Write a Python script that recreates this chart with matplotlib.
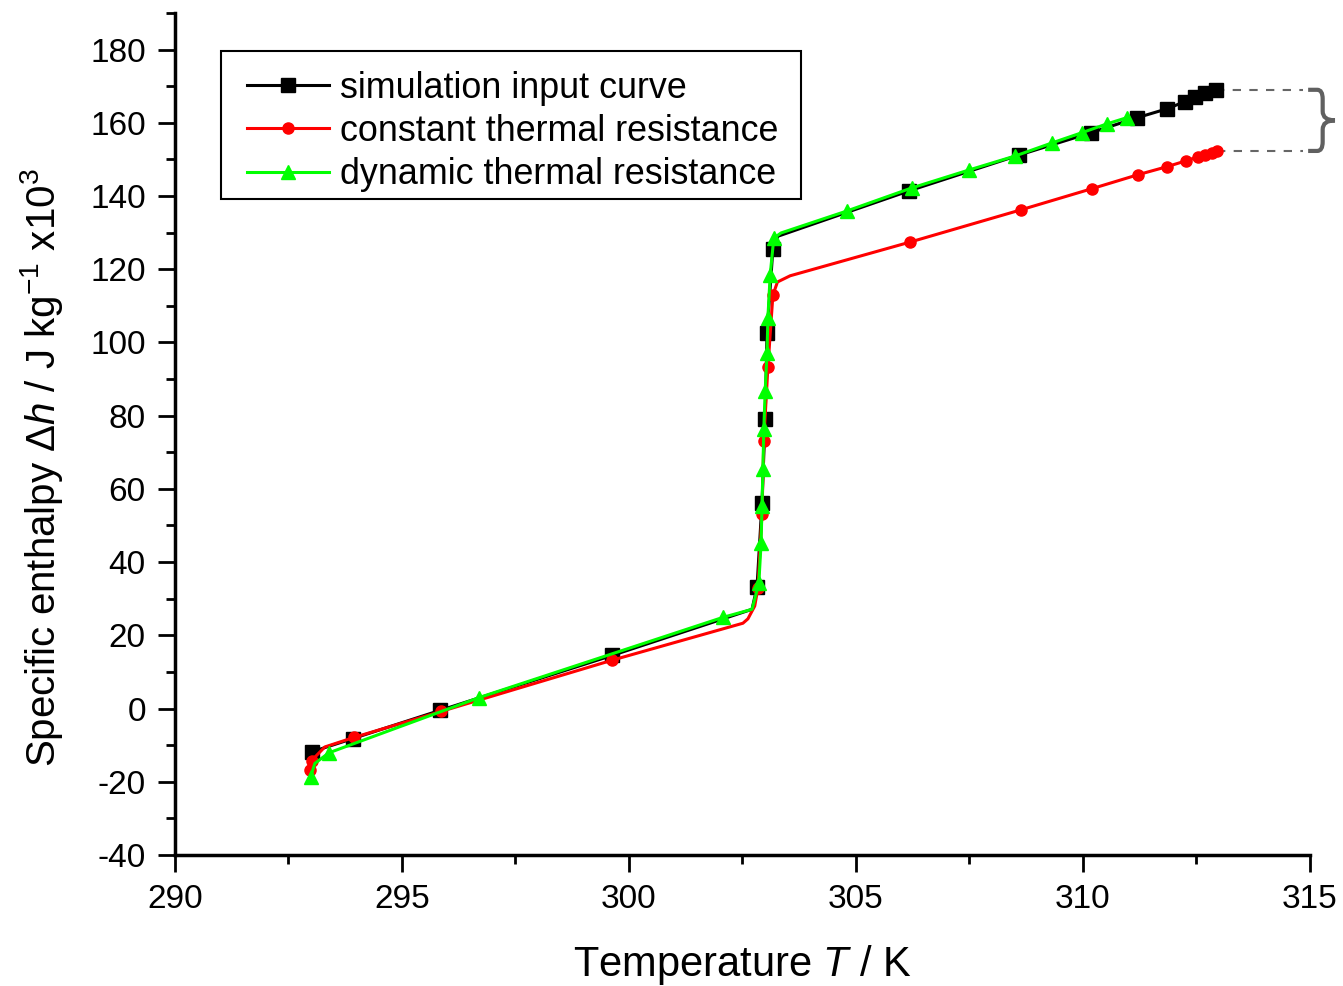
import numpy as np
import matplotlib.pyplot as plt
from matplotlib.path import Path
from matplotlib.patches import PathPatch, Rectangle

plt.rcParams['font.family'] = ['Liberation Sans', 'DejaVu Sans']
plt.rcParams['mathtext.fontset'] = 'custom'
plt.rcParams['mathtext.rm'] = 'Liberation Sans'
plt.rcParams['mathtext.it'] = 'Liberation Sans:italic'
plt.rcParams['axes.unicode_minus'] = False

# simulation input curve
T_sim = [293.02, 293.92, 295.84, 299.63, 302.71, 302.82, 302.93, 303.00, 303.04,
         303.17, 303.28, 306.17, 308.60, 310.18, 311.20, 311.85, 312.25, 312.47,
         312.69, 312.93]
h_sim = [-11.8, -8.2, -0.5, 14.5, 27.1, 33.2, 56.2, 79.2, 102.5,
         125.5, 129.0, 141.4, 151.2, 157.3, 161.4, 163.8, 165.8, 167.1,
         168.2, 169.0]
mk_sim = [0, 1, 2, 3, 5, 6, 7, 8, 9, 11, 12, 13, 14, 15, 16, 17, 18, 19]

# constant thermal resistance
T_con = [292.97, 293.01, 293.30, 293.94, 295.86, 299.63, 302.51, 302.62, 302.77,
         302.84, 302.93, 302.97, 303.06, 303.17, 303.27, 303.55, 306.19, 308.63,
         310.20, 311.21, 311.85, 312.27, 312.53, 312.69, 312.84, 312.95]
h_con = [-16.7, -14.2, -10.5, -7.9, -0.8, 13.2, 23.3, 24.5, 28.0,
         32.9, 53.2, 73.2, 93.2, 112.9, 116.5, 118.2, 127.4, 136.2,
         142.0, 145.8, 148.0, 149.6, 150.7, 151.2, 151.8, 152.3]
mk_con = [0, 1, 3, 4, 5, 9, 10, 11, 12, 13, 16, 17, 18, 19, 20, 21, 22, 23, 24, 25]

# dynamic thermal resistance
T_dyn = [292.99, 293.08, 293.39, 296.70, 302.07, 302.71, 302.86, 302.91, 302.93,
         302.95, 302.97, 303.00, 303.04, 303.06, 303.11, 303.19, 303.35, 304.80,
         306.23, 307.49, 308.50, 309.32, 309.98, 310.53, 310.97]
h_dyn = [-18.6, -15.0, -12.1, 3.0, 24.9, 27.1, 34.2, 45.2, 55.3,
         65.5, 76.4, 86.8, 97.0, 106.8, 118.4, 128.5, 129.9, 135.9,
         142.2, 147.1, 150.9, 154.5, 157.3, 159.7, 161.4]
mk_dyn = [0, 2, 3, 4, 6, 7, 8, 9, 10, 11, 12, 13, 14, 15, 17, 18, 19, 20, 21, 22, 23, 24]

W, H = 1343, 986
fig = plt.figure(figsize=(W / 100, H / 100), dpi=100)
ax = fig.add_axes([0.1303, 0.1329, 0.8451, 0.854])

ax.plot(T_sim, h_sim, color='black', lw=2.2, marker='s', ms=10.5,
        markevery=mk_sim, label='simulation input curve')
ax.plot(T_con, h_con, color='#ff0000', lw=2.2, marker='o', ms=8,
        markevery=mk_con, label='constant thermal resistance')
ax.plot(T_dyn, h_dyn, color='#00ff00', lw=2.2, marker='^', ms=10,
        markevery=mk_dyn, label='dynamic thermal resistance')

# dashed guides + brace marking the enthalpy difference
x_end = 314.85
ax.plot([T_sim[-1], x_end], [h_sim[-1], h_sim[-1]], ls=(0, (4, 4)), color='#666666',
        lw=1.5, clip_on=False, zorder=1)
ax.plot([T_con[-1], x_end], [h_con[-1], h_con[-1]], ls=(0, (4, 4)), color='#666666',
        lw=1.5, clip_on=False, zorder=1)
yt, yb = h_sim[-1], h_con[-1]
ym = (yt + yb) / 2
x0, x1, x2 = 314.96, 315.28, 315.55
d, e = 0.12, 2.5
verts = [(x0, yt), (x1 - d, yt), (x1, yt), (x1, yt - e), (x1, ym + e), (x1, ym), (x2, ym),
         (x1, ym), (x1, ym - e), (x1, yb + e), (x1, yb), (x1 - d, yb), (x0, yb)]
codes = [Path.MOVETO, Path.LINETO, Path.CURVE3, Path.CURVE3, Path.LINETO, Path.CURVE3, Path.CURVE3,
         Path.CURVE3, Path.CURVE3, Path.LINETO, Path.CURVE3, Path.CURVE3, Path.LINETO]
ax.add_patch(PathPatch(Path(verts, codes), fill=False, edgecolor='#606060', lw=3,
                       clip_on=False, capstyle='butt', joinstyle='miter'))

ax.set_xlim(290, 315)
ax.set_ylim(-40, 190)
ax.set_xticks(np.arange(290, 316, 5))
ax.set_xticks(np.arange(292.5, 315, 5), minor=True)
ax.set_yticks(np.arange(-40, 181, 20))
ax.set_yticks(np.arange(-30, 191, 20), minor=True)

for s in ['top', 'right']:
    ax.spines[s].set_visible(False)
for s in ['left', 'bottom']:
    ax.spines[s].set_linewidth(2.5)

ax.tick_params(which='major', direction='out', length=12, width=2, labelsize=24, pad=9)
ax.tick_params(axis='y', which='major', pad=9)
ax.tick_params(which='minor', direction='out', length=6.5, width=2)

ax.set_xlabel('Temperature $\\mathit{T}$ / K', fontsize=30)
ax.xaxis.set_label_coords(0.5, -0.105)
ax.set_ylabel('Specific enthalpy $\\Delta\\mathit{h}$ / J kg$^{-1}$ x10$^{3}$', fontsize=29)
ax.yaxis.set_label_coords(-0.097, 0.46)

# legend without its own frame; box drawn separately
leg = ax.legend(loc='upper left', bbox_to_anchor=(247 / W, 1 - 70.5 / H),
                bbox_transform=fig.transFigure, borderaxespad=0, borderpad=0,
                fontsize=25.8, handlelength=2.29, handletextpad=0.31,
                labelspacing=0.237, frameon=False)
fig.patches.append(Rectangle((221 / W, 1 - 199 / H), 580 / W, 148 / H,
                             transform=fig.transFigure, fill=False,
                             edgecolor='black', lw=1.5, zorder=5))

fig.savefig('out.png', dpi=100)
